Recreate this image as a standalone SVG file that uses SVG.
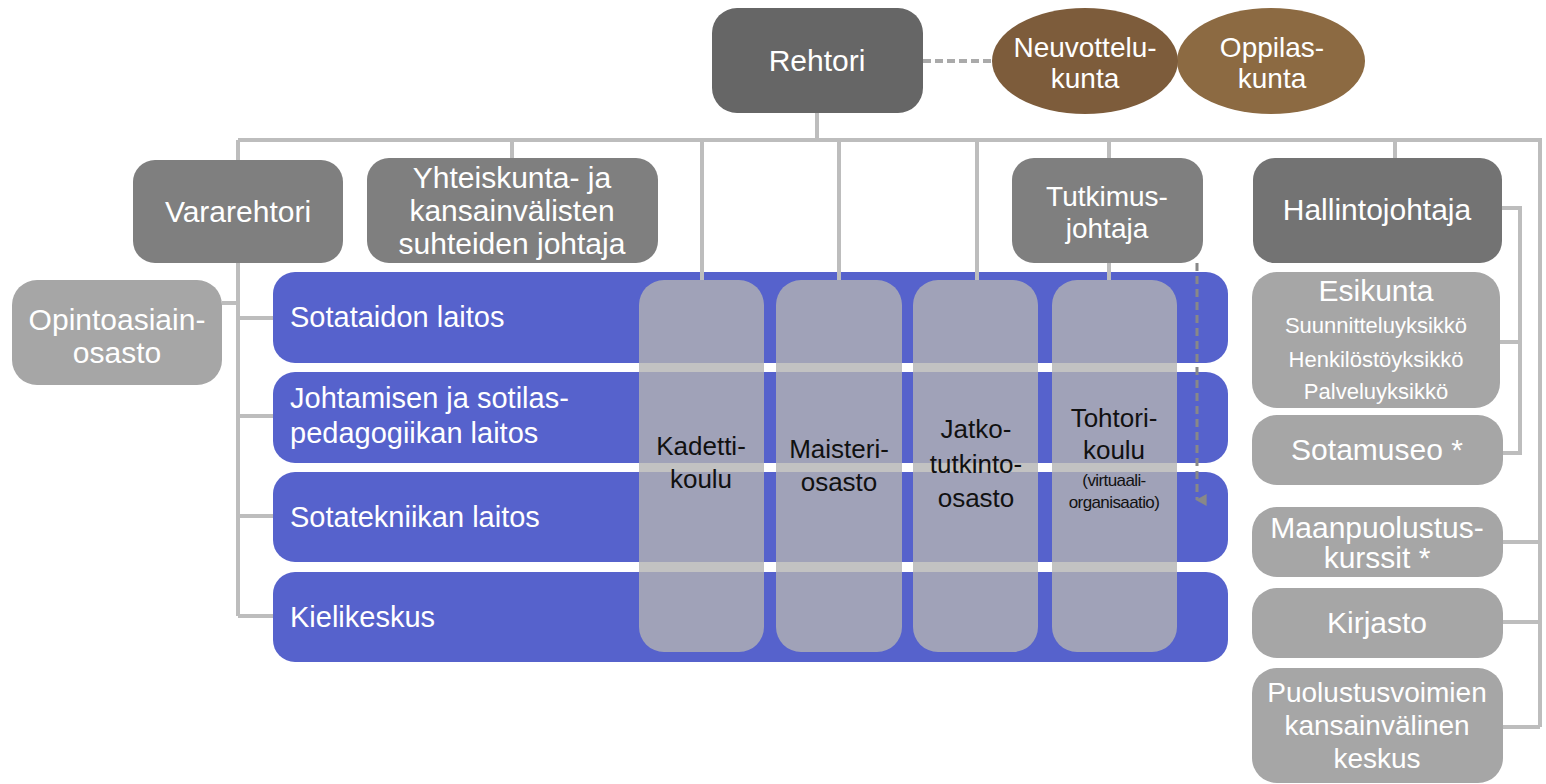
<svg xmlns="http://www.w3.org/2000/svg" width="1546" height="784" viewBox="0 0 1546 784">
<style>
text{font-family:"Liberation Sans",Arial,sans-serif;text-anchor:middle}
.w{fill:#ffffff;font-size:30px}
.w2{fill:#ffffff;font-size:28px}
.wl{fill:#ffffff;font-size:29px;text-anchor:start}
.k{fill:#111111;font-size:26px}
.s{fill:#ffffff;font-size:22px}
.dk{fill:#7f7f7f}
.lt{fill:#a6a6a6}
.row{fill:#5662cc}
.col{fill:#b3b3b3;fill-opacity:0.8}
.ln{fill:none;stroke:#bdbdbd;stroke-width:4}
</style>
<defs>
<marker id="ah" viewBox="0 0 10 10" refX="5" refY="8" markerWidth="4" markerHeight="4" orient="auto-start-reverse" markerUnits="strokeWidth">
<path d="M0,0 L10,0 L5,9 z" fill="#888888"/>
</marker>
</defs>

<g id="rows">
<g id="sotataidon"><rect class="row" x="273" y="272" width="955" height="91" rx="22"/><text class="wl" x="290" y="327">Sotataidon laitos</text></g>
<g id="johtamisen"><rect class="row" x="273" y="372" width="955" height="91" rx="22"/><text class="wl" x="290" y="408">Johtamisen ja sotilas-</text><text class="wl" x="290" y="443">pedagogiikan laitos</text></g>
<g id="sotatekniikan"><rect class="row" x="273" y="472" width="955" height="90" rx="22"/><text class="wl" x="290" y="527">Sotatekniikan laitos</text></g>
<g id="kielikeskus"><rect class="row" x="273" y="572" width="955" height="90" rx="22"/><text class="wl" x="290" y="627">Kielikeskus</text></g>
</g>

<g id="columns">
<g id="kadetti"><rect class="col" x="639" y="280" width="125" height="372" rx="25"/><text class="k" x="701" y="455">Kadetti-</text><text class="k" x="701" y="488">koulu</text></g>
<g id="maisteri"><rect class="col" x="776" y="280" width="126" height="372" rx="25"/><text class="k" x="839" y="458">Maisteri-</text><text class="k" x="839" y="491">osasto</text></g>
<g id="jatko"><rect class="col" x="913" y="280" width="125" height="372" rx="25"/><text class="k" x="976" y="438">Jatko-</text><text class="k" x="976" y="473">tutkinto-</text><text class="k" x="976" y="507">osasto</text></g>
<g id="tohtori"><rect class="col" x="1052" y="280" width="125" height="372" rx="25"/><text class="k" x="1114" y="427">Tohtori-</text><text class="k" x="1114" y="459">koulu</text><text class="k" x="1114" y="486" style="font-size:17px;letter-spacing:-0.6px">(virtuaali-</text><text class="k" x="1114" y="508" style="font-size:17px;letter-spacing:-0.6px">organisaatio)</text></g>
</g>

<g id="connectors">
<path class="ln" d="M817,113 V140 M238,140 H1540 V727 M238,140 V160 M238,263 V616 M222,303 H238 M238,318 H273 M238,416 H273 M238,516 H273 M238,616 H273"/>
<path class="ln" d="M512,140 V158 M702,140 V280 M839,140 V280 M977,140 V280 M1109,140 V158 M1109,263 V280 M1395,140 V158"/>
<path class="ln" d="M1502,208 H1520 V453 H1503 M1500,342 H1520 M1503,542 H1540 M1503,622 H1540 M1503,727 H1540"/>
<path d="M923,61 H992" fill="none" stroke="#aaaaaa" stroke-width="4" stroke-dasharray="8,4"/>
<path d="M1197,263 V500" fill="none" stroke="#888888" stroke-width="3" stroke-dasharray="8,5" marker-end="url(#ah)"/>
</g>

<g id="rehtori"><rect x="712" y="8" width="211" height="105" rx="25" fill="#666666"/><text class="w" x="817" y="71">Rehtori</text></g>
<g id="oppilaskunta"><ellipse cx="1271" cy="61" rx="94" ry="53" fill="#8c6a42"/><text class="w2" x="1272" y="57">Oppilas-</text><text class="w2" x="1272" y="88">kunta</text></g>
<g id="neuvottelukunta"><ellipse cx="1085" cy="61" rx="93" ry="53" fill="#7d5c3b"/><text class="w2" x="1085" y="57">Neuvottelu-</text><text class="w2" x="1085" y="88">kunta</text></g>

<g id="vararehtori"><rect class="dk" x="133" y="160" width="210" height="103" rx="22"/><text class="w" x="238" y="222">Vararehtori</text></g>
<g id="yhteiskunta"><rect class="dk" x="367" y="158" width="291" height="105" rx="22"/><text class="w" x="512" y="188">Yhteiskunta- ja</text><text class="w" x="512" y="221">kansainvälisten</text><text class="w" x="512" y="254">suhteiden johtaja</text></g>
<g id="tutkimus"><rect class="dk" x="1012" y="158" width="191" height="105" rx="22"/><text class="w2" x="1107" y="206">Tutkimus-</text><text class="w2" x="1107" y="238">johtaja</text></g>
<g id="hallinto"><rect x="1253" y="158" width="249" height="105" rx="22" fill="#737373"/><text class="w" x="1377" y="220">Hallintojohtaja</text></g>

<g id="opintoasiain"><rect class="lt" x="12" y="280" width="210" height="105" rx="25"/><text class="w" x="117" y="330">Opintoasiain-</text><text class="w" x="117" y="363">osasto</text></g>
<g id="esikunta"><rect class="lt" x="1252" y="272" width="248" height="136" rx="25"/><text class="w" x="1376" y="301">Esikunta</text><text class="s" x="1376" y="333">Suunnitteluyksikkö</text><text class="s" x="1376" y="367">Henkilöstöyksikkö</text><text class="s" x="1376" y="399">Palveluyksikkö</text></g>
<g id="sotamuseo"><rect class="lt" x="1252" y="415" width="251" height="70" rx="25"/><text class="w" x="1377" y="460">Sotamuseo *</text></g>
<g id="maanpuolustus"><rect class="lt" x="1252" y="507" width="251" height="70" rx="25"/><text class="w" x="1377" y="538">Maanpuolustus-</text><text class="w" x="1377" y="568">kurssit *</text></g>
<g id="kirjasto"><rect class="lt" x="1252" y="588" width="251" height="70" rx="25"/><text class="w" x="1377" y="633">Kirjasto</text></g>
<g id="pvkv"><rect class="lt" x="1252" y="668" width="251" height="115" rx="25"/><text class="w" x="1377" y="702" style="font-size:28px">Puolustusvoimien</text><text class="w" x="1377" y="735" style="font-size:28px">kansainvälinen</text><text class="w" x="1377" y="768" style="font-size:28px">keskus</text></g>
</svg>
